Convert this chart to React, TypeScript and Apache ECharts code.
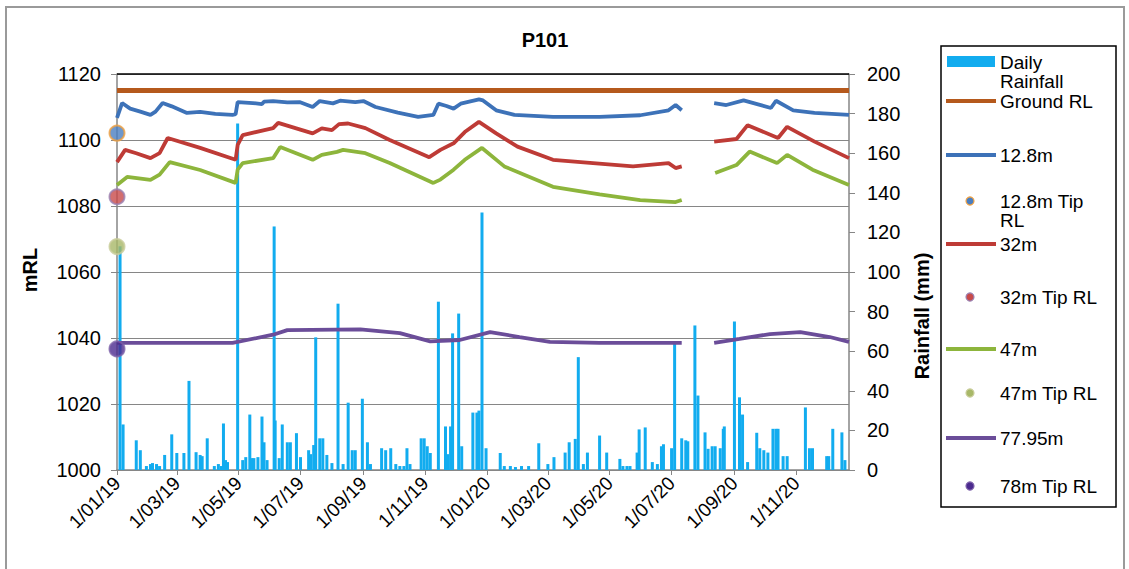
import React, { useEffect, useRef } from "react";
import * as echarts from "echarts";

const FONT = '"Liberation Sans", Arial, sans-serif';

const TITLE = "P101";
const LEFT_AXIS_NAME = "mRL";
const RIGHT_AXIS_NAME = "Rainfall (mm)";

const X_MIN = "2019-01-01";
const X_MAX = "2020-12-23";
const X_TICKS = [
  "2019-01-01", "2019-03-01", "2019-05-01", "2019-07-01", "2019-09-01", "2019-11-01",
  "2020-01-01", "2020-03-01", "2020-05-01", "2020-07-01", "2020-09-01", "2020-11-01",
];
const LEFT_MIN = 1000;
const LEFT_MAX = 1120;
const RIGHT_MIN = 0;
const RIGHT_MAX = 200;
const TICK_STEP = 20;

const NAMES = {
  rain: "Daily Rainfall",
  ground: "Ground RL",
  p128: "12.8m",
  tip128: "12.8m Tip RL",
  p32: "32m",
  tip32: "32m Tip RL",
  p47: "47m",
  tip47: "47m Tip RL",
  p78: "77.95m",
  tip78: "78m Tip RL",
};

const COLORS = {
  rain: "#12acef",
  ground: "#b5591c",
  p128: "#3d72b8",
  p32: "#be3b36",
  p47: "#8db53c",
  p78: "#6b4d99",
};

// Daily rainfall (mm), only days with rain
const rainfall: [string, number][] = [
  ["2019-01-04", 113], ["2019-01-07", 23], ["2019-01-20", 15], ["2019-01-24", 10], ["2019-01-30", 2],
  ["2019-02-03", 3], ["2019-02-05", 3.5], ["2019-02-09", 3], ["2019-02-12", 2], ["2019-02-17", 7.6],
  ["2019-02-24", 18], ["2019-03-01", 8.6], ["2019-03-08", 8.6], ["2019-03-13", 45], ["2019-03-20", 9],
  ["2019-03-24", 7.6], ["2019-03-26", 7], ["2019-03-31", 16], ["2019-04-07", 2], ["2019-04-11", 3],
  ["2019-04-14", 2], ["2019-04-16", 23.5], ["2019-04-18", 5], ["2019-04-20", 4], ["2019-04-30", 175],
  ["2019-05-05", 5], ["2019-05-08", 6.5], ["2019-05-12", 28], ["2019-05-14", 6], ["2019-05-16", 6],
  ["2019-05-20", 6.5], ["2019-05-24", 27], ["2019-05-26", 14], ["2019-05-29", 5], ["2019-06-05", 123],
  ["2019-06-06", 25], ["2019-06-10", 6], ["2019-06-13", 23], ["2019-06-18", 14], ["2019-06-21", 14],
  ["2019-06-27", 18.6], ["2019-07-01", 6.5], ["2019-07-09", 10], ["2019-07-11", 8], ["2019-07-14", 12.6],
  ["2019-07-16", 67], ["2019-07-20", 16], ["2019-07-23", 16], ["2019-07-27", 7.6], ["2019-08-01", 3.5],
  ["2019-08-07", 84], ["2019-08-12", 3], ["2019-08-17", 34], ["2019-08-21", 10], ["2019-08-24", 10],
  ["2019-08-31", 36], ["2019-09-05", 14], ["2019-09-08", 3], ["2019-09-19", 11], ["2019-09-23", 10],
  ["2019-09-28", 11], ["2019-10-03", 3], ["2019-10-07", 2], ["2019-10-11", 2], ["2019-10-14", 11],
  ["2019-10-17", 3], ["2019-10-28", 16], ["2019-10-31", 16], ["2019-11-03", 12], ["2019-11-06", 8.6],
  ["2019-11-14", 85], ["2019-11-21", 22], ["2019-11-23", 8], ["2019-11-26", 22], ["2019-11-28", 69],
  ["2019-12-04", 79], ["2019-12-07", 12], ["2019-12-18", 29], ["2019-12-22", 29], ["2019-12-24", 30],
  ["2019-12-27", 130], ["2019-12-31", 11], ["2020-01-14", 8.6], ["2020-01-18", 2], ["2020-01-24", 2],
  ["2020-01-29", 1.5], ["2020-02-04", 2], ["2020-02-11", 2], ["2020-02-21", 13.5], ["2020-03-01", 3],
  ["2020-03-07", 6.5], ["2020-03-18", 8.8], ["2020-03-22", 14], ["2020-03-28", 15.7], ["2020-03-31", 57],
  ["2020-04-05", 3], ["2020-04-09", 8.8], ["2020-04-21", 17.4], ["2020-04-28", 8.8], ["2020-05-11", 5.6],
  ["2020-05-14", 2], ["2020-05-18", 2], ["2020-05-21", 2], ["2020-05-28", 8.8], ["2020-05-30", 20.5],
  ["2020-06-05", 21.5], ["2020-06-12", 4], ["2020-06-17", 3], ["2020-06-21", 12], ["2020-06-23", 13],
  ["2020-07-01", 11], ["2020-07-04", 64], ["2020-07-11", 16], ["2020-07-15", 15], ["2020-07-17", 14.5],
  ["2020-07-24", 73], ["2020-07-27", 37.6], ["2020-08-03", 19], ["2020-08-06", 10.7], ["2020-08-10", 12],
  ["2020-08-13", 12], ["2020-08-18", 11], ["2020-08-21", 20.8], ["2020-08-22", 22], ["2020-09-01", 75],
  ["2020-09-06", 36.7], ["2020-09-09", 28], ["2020-09-14", 4], ["2020-09-23", 18.8], ["2020-09-26", 11],
  ["2020-09-30", 10], ["2020-10-04", 8.8], ["2020-10-09", 20.8], ["2020-10-12", 20.8], ["2020-10-14", 20.8],
  ["2020-10-19", 7], ["2020-10-23", 7], ["2020-11-10", 31.6], ["2020-11-14", 11], ["2020-11-17", 11],
  ["2020-12-01", 7], ["2020-12-03", 7], ["2020-12-07", 20.8], ["2020-12-16", 19], ["2020-12-19", 5],
];

const groundRL: [string, number][] = [["2019-01-01", 1115], ["2020-12-23", 1115]];

// Piezometer levels (mRL); "-" marks the logger gap
const level128: [string, number | string][] = [
  ["2019-01-01", 1106.7], ["2019-01-06", 1111.2], ["2019-01-14", 1109.5], ["2019-01-24", 1108.6],
  ["2019-02-03", 1107.6], ["2019-02-08", 1108.6], ["2019-02-15", 1111.2], ["2019-02-24", 1110.2],
  ["2019-03-11", 1108.2], ["2019-03-24", 1108.5], ["2019-04-08", 1107.9], ["2019-04-25", 1107.6],
  ["2019-04-28", 1107.8], ["2019-04-30", 1111.5], ["2019-05-15", 1111.2], ["2019-05-24", 1110.9],
  ["2019-05-26", 1111.6], ["2019-06-04", 1111.8], ["2019-06-18", 1111.4], ["2019-06-30", 1111.5],
  ["2019-07-13", 1110], ["2019-07-20", 1111.8], ["2019-08-02", 1111.1], ["2019-08-09", 1111.9],
  ["2019-08-24", 1111.5], ["2019-09-01", 1111.8], ["2019-09-13", 1110], ["2019-10-05", 1108.3],
  ["2019-10-25", 1107], ["2019-11-09", 1107.6], ["2019-11-14", 1111], ["2019-11-22", 1110.3],
  ["2019-11-29", 1109.5], ["2019-12-06", 1111], ["2019-12-24", 1112.3], ["2019-12-28", 1112],
  ["2020-01-10", 1109], ["2020-01-28", 1107.6], ["2020-03-06", 1107], ["2020-04-21", 1107],
  ["2020-05-31", 1107.5], ["2020-06-28", 1109], ["2020-07-05", 1110.6], ["2020-07-11", 1109],
  ["2020-07-26", "-"],
  ["2020-08-12", 1111.2], ["2020-08-24", 1110.6], ["2020-09-10", 1112], ["2020-10-07", 1109.7],
  ["2020-10-12", 1111.9], ["2020-10-29", 1109], ["2020-11-19", 1108.2], ["2020-12-23", 1107.6],
];

const level32: [string, number | string][] = [
  ["2019-01-01", 1093.3], ["2019-01-09", 1097], ["2019-01-20", 1096], ["2019-02-03", 1094.5],
  ["2019-02-12", 1096], ["2019-02-20", 1100.6], ["2019-03-24", 1097.6], ["2019-04-28", 1094],
  ["2019-04-30", 1098.5], ["2019-05-05", 1101.5], ["2019-06-04", 1103.6], ["2019-06-09", 1105.2],
  ["2019-07-13", 1102], ["2019-07-22", 1103.5], ["2019-08-01", 1103], ["2019-08-08", 1104.8],
  ["2019-08-17", 1105], ["2019-09-03", 1103.6], ["2019-09-27", 1100], ["2019-11-05", 1094.8],
  ["2019-11-16", 1097], ["2019-11-29", 1099], ["2019-12-10", 1102.4], ["2019-12-24", 1105.5],
  ["2020-01-10", 1102], ["2020-01-31", 1098], ["2020-03-06", 1094], ["2020-05-24", 1092],
  ["2020-06-28", 1093], ["2020-07-05", 1091.5], ["2020-07-11", 1092],
  ["2020-07-26", "-"],
  ["2020-08-12", 1099.5], ["2020-09-03", 1100.3], ["2020-09-14", 1104.5], ["2020-10-14", 1100.6],
  ["2020-10-23", 1104], ["2020-11-19", 1099.5], ["2020-12-23", 1094.5],
];

const level47: [string, number | string][] = [
  ["2019-01-01", 1086.4], ["2019-01-11", 1088.8], ["2019-02-03", 1087.9], ["2019-02-12", 1089.5],
  ["2019-02-22", 1093.3], ["2019-03-24", 1090.9], ["2019-04-28", 1087], ["2019-04-30", 1091],
  ["2019-05-05", 1093], ["2019-06-04", 1094.5], ["2019-06-11", 1097.9], ["2019-07-13", 1094],
  ["2019-07-22", 1095.5], ["2019-08-06", 1096.4], ["2019-08-12", 1097], ["2019-09-03", 1096],
  ["2019-09-27", 1093], ["2019-11-09", 1087], ["2019-11-16", 1088], ["2019-11-29", 1091],
  ["2019-12-10", 1094], ["2019-12-27", 1097.6], ["2020-01-18", 1092], ["2020-03-06", 1085.8],
  ["2020-04-21", 1083.5], ["2020-05-31", 1081.8], ["2020-07-05", 1081.2], ["2020-07-11", 1081.8],
  ["2020-07-26", "-"],
  ["2020-08-13", 1090], ["2020-09-03", 1092.4], ["2020-09-16", 1096.5], ["2020-10-13", 1093],
  ["2020-10-23", 1095.5], ["2020-11-17", 1091], ["2020-12-23", 1086.4],
];

const level78: [string, number | string][] = [
  ["2019-01-01", 1038.5], ["2019-04-25", 1038.5], ["2019-06-04", 1041], ["2019-06-18", 1042.4],
  ["2019-08-29", 1042.6], ["2019-10-07", 1041.5], ["2019-11-06", 1039], ["2019-12-05", 1039.4],
  ["2020-01-04", 1041.8], ["2020-02-02", 1040.3], ["2020-03-03", 1038.8], ["2020-04-21", 1038.5],
  ["2020-07-11", 1038.5],
  ["2020-07-26", "-"],
  ["2020-08-12", 1038.5], ["2020-09-06", 1039.7], ["2020-10-06", 1041.2], ["2020-11-05", 1041.8],
  ["2020-12-04", 1040.3], ["2020-12-23", 1038.8],
];

// Tip elevations of each piezometer (mRL)
const TIP_DATE = "2019-01-01";
const tip128 = 1102.1;
const tip32 = 1082.8;
const tip47 = 1067.7;
const tip78 = 1036.7;

const toTime = (s: string) => {
  const [y, m, d] = s.split("-").map(Number);
  return new Date(y, m - 1, d).getTime();
};
const pts = (arr: [string, number | string][]) => arr.map(([d, v]) => [toTime(d), v]);
const fmtDate = (v: number) => {
  const d = new Date(v);
  return `${d.getDate()}/${String(d.getMonth() + 1).padStart(2, "0")}/${String(d.getFullYear()).slice(2)}`;
};

export default function App() {
  const ref = useRef<HTMLDivElement>(null);

  useEffect(() => {
    if (!ref.current) return;
    const chart = echarts.init(ref.current, undefined, { renderer: "svg" });
    const tickTimes = X_TICKS.map(toTime);
    const grey = "#868686";

    const lineSeries = (name: string, data: [string, number | string][], color: string, width = 3.8) => ({
      type: "line",
      name,
      data: pts(data),
      yAxisIndex: 0,
      showSymbol: false,
      symbol: "none",
      connectNulls: false,
      lineStyle: { color, width },
      z: 3,
    });

    const tipSeries = (name: string, value: number, fill: string, border: string) => ({
      type: "scatter",
      name,
      data: [[toTime(TIP_DATE), value]],
      yAxisIndex: 0,
      symbol: "circle",
      symbolSize: 15,
      clip: false,
      itemStyle: { color: fill, borderColor: border, borderWidth: 2 },
      z: 5,
    });

    const textStyle = (text: string, x: number, y: number) => ({
      type: "text",
      x,
      y,
      style: { text, fill: "#000", fontFamily: FONT, fontSize: 19, lineHeight: 19, verticalAlign: "middle" },
    });
    const lineIcon = (y: number, color: string) => ({
      type: "line",
      shape: { x1: 946, y1: y, x2: 996, y2: y },
      style: { stroke: color, lineWidth: 4 },
    });
    const dotIcon = (y: number, fill: string, border: string) => ({
      type: "circle",
      shape: { cx: 970, cy: y, r: 4 },
      style: { fill, stroke: border, lineWidth: 1.2 },
    });
    const legendRows: any[] = [
      { type: "rect", shape: { x: 941, y: 46, width: 175, height: 461 }, style: { fill: "#fff", stroke: "#000", lineWidth: 1.5 } },
      { type: "rect", shape: { x: 947, y: 56, width: 48, height: 11 }, style: { fill: COLORS.rain } },
      textStyle("Daily\nRainfall", 1000, 72),
      lineIcon(101, COLORS.ground), textStyle(NAMES.ground, 1000, 101),
      lineIcon(155, COLORS.p128), textStyle(NAMES.p128, 1000, 155),
      dotIcon(201, "#4a7ec0", "#f0a040"), textStyle("12.8m Tip\nRL", 1000, 211),
      lineIcon(244, COLORS.p32), textStyle(NAMES.p32, 1000, 244),
      dotIcon(297, "#c84a4a", "#9a80b0"), textStyle(NAMES.tip32, 1000, 297),
      lineIcon(349, COLORS.p47), textStyle(NAMES.p47, 1000, 349),
      dotIcon(393, "#a8b868", "#c8cc98"), textStyle(NAMES.tip47, 1000, 393),
      lineIcon(438, COLORS.p78), textStyle(NAMES.p78, 1000, 438),
      dotIcon(486, "#4b2a8e", "#7b5fa8"), textStyle(NAMES.tip78, 1000, 486),
    ];

    chart.setOption({
      animation: false,
      backgroundColor: "#ffffff",
      textStyle: { fontFamily: FONT },
      grid: { left: 117, right: 280, top: 74, bottom: 99 },
      xAxis: {
        type: "value",
        min: toTime(X_MIN),
        max: toTime(X_MAX),
        axisLine: { lineStyle: { color: grey, width: 1.5 } },
        axisTick: { show: true, customValues: tickTimes, length: 5, lineStyle: { color: grey } },
        axisLabel: {
          customValues: tickTimes,
          rotate: 45,
          margin: 10,
          formatter: (v: number) => fmtDate(v),
          color: "#000",
          fontSize: 19,
          fontFamily: FONT,
        },
        splitLine: { show: false },
      },
      yAxis: [
        {
          type: "value",
          min: LEFT_MIN,
          max: LEFT_MAX,
          interval: TICK_STEP,
          position: "left",
          axisLine: { show: true, lineStyle: { color: grey, width: 1.5 } },
          axisTick: { show: true, length: 6, lineStyle: { color: grey } },
          axisLabel: { color: "#000", fontSize: 20, margin: 16, fontFamily: FONT, formatter: (v: number) => String(v) },
          splitLine: { show: true, lineStyle: { color: grey, width: 1.2 } },
        },
        {
          type: "value",
          min: RIGHT_MIN,
          max: RIGHT_MAX,
          interval: TICK_STEP,
          position: "right",
          axisLine: { show: true, lineStyle: { color: grey, width: 1.5 } },
          axisTick: { show: true, length: 6, lineStyle: { color: grey } },
          axisLabel: { color: "#000", fontSize: 20, margin: 18, fontFamily: FONT, formatter: (v: number) => String(v) },
          splitLine: { show: false },
        },
      ],
      series: [
        {
          type: "bar",
          name: NAMES.rain,
          data: rainfall.map(([d, v]) => [toTime(d), v]),
          yAxisIndex: 1,
          barWidth: 3,
          itemStyle: { color: COLORS.rain },
          z: 2,
        },
        {
          ...lineSeries(NAMES.ground, groundRL, COLORS.ground, 5),
          markLine: {
            silent: true,
            symbol: "none",
            label: { show: false },
            lineStyle: { color: "#000", width: 1.6, type: "solid" },
            data: [{ yAxis: LEFT_MAX }],
          },
        },
        lineSeries(NAMES.p128, level128, COLORS.p128),
        lineSeries(NAMES.p32, level32, COLORS.p32),
        lineSeries(NAMES.p47, level47, COLORS.p47),
        lineSeries(NAMES.p78, level78, COLORS.p78),
        tipSeries(NAMES.tip128, tip128, "#4a7ec0", "#f0a040"),
        tipSeries(NAMES.tip32, tip32, "#c84a4a", "#9a80b0"),
        tipSeries(NAMES.tip47, tip47, "#a8b868", "#c8cc98"),
        tipSeries(NAMES.tip78, tip78, "#4b2a8e", "#7b5fa8"),
      ],
      graphic: [
        { type: "rect", shape: { x: 6, y: 7, width: 1118, height: 580 }, style: { fill: "none", stroke: "#9a9a9a", lineWidth: 2 }, silent: true },
        {
          type: "text",
          x: 545,
          y: 40,
          style: { text: TITLE, fill: "#000", fontFamily: FONT, fontSize: 20, fontWeight: "bold", align: "center", verticalAlign: "middle" },
        },
        {
          type: "text",
          x: 30,
          y: 270,
          rotation: Math.PI / 2,
          style: { text: LEFT_AXIS_NAME, fill: "#000", fontFamily: FONT, fontSize: 20, fontWeight: "bold", align: "center", verticalAlign: "middle" },
        },
        {
          type: "text",
          x: 922,
          y: 316,
          rotation: Math.PI / 2,
          style: { text: RIGHT_AXIS_NAME, fill: "#000", fontFamily: FONT, fontSize: 20, fontWeight: "bold", align: "center", verticalAlign: "middle" },
        },
        ...legendRows,
      ],
    });

    return () => chart.dispose();
  }, []);

  return (
    <div
      ref={ref}
      style={{ position: "fixed", left: 0, top: 0, width: 1129, height: 569, background: "#fff" }}
    />
  );
}
